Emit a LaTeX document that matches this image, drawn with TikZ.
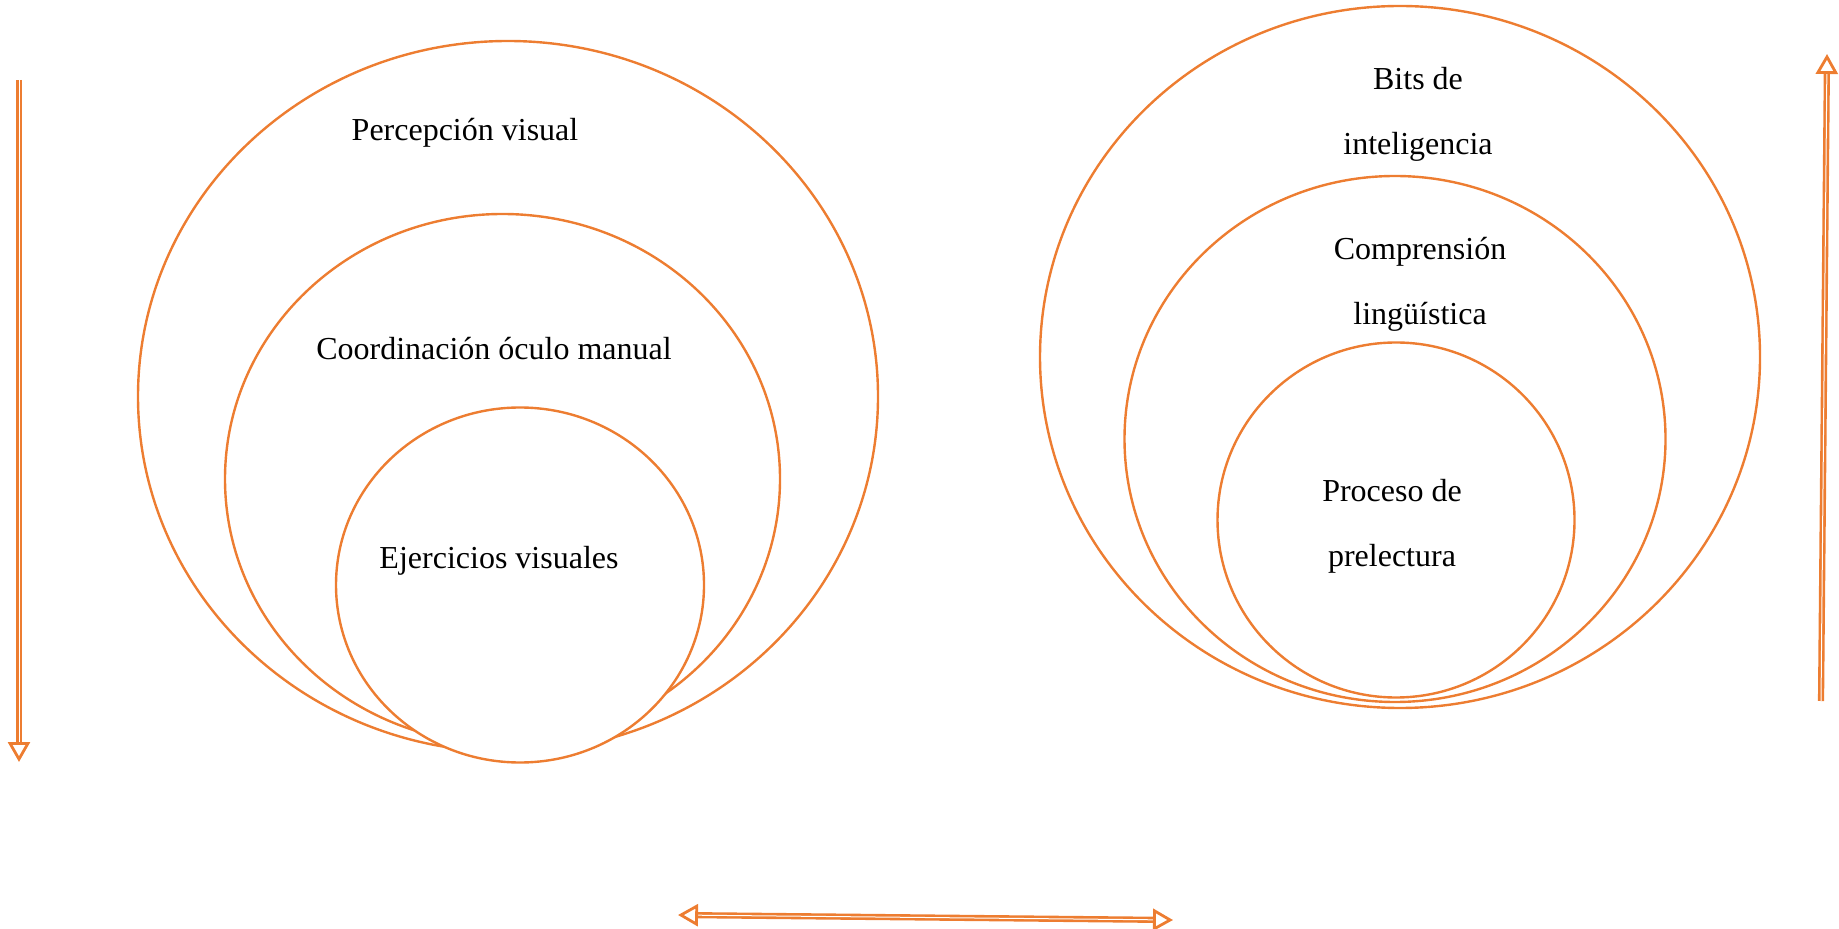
\documentclass[tikz,border=0pt]{standalone}
\usepackage{fontspec}
\setmainfont{Liberation Serif}
\usetikzlibrary{arrows.meta,shapes.geometric,positioning}
\definecolor{naranja}{HTML}{ED7D31}

\begin{document}
\begin{tikzpicture}[x=0.5pt,y=-0.5pt,
    aro/.style={draw=naranja,line width=1.2pt,ellipse,inner sep=0pt},
    texto/.style={font=\fontsize{16}{32.5}\selectfont,align=center},
    punta/.tip={Triangle[open,length=10pt,width=11pt,line width=1.4pt]},
    flecha/.style={draw=naranja,line width=1.3pt,double=white,double distance=0.5pt}]
  \useasboundingbox (0,0) rectangle (1839,929);
  % lado izquierdo
  \node[aro,minimum width=370pt,minimum height=355.5pt] (percepcion) at (508,396.5) {};
  \node[aro,minimum width=277.5pt,minimum height=265pt] (coordinacion) at (502.5,479) {};
  \node[aro,fill=white,minimum width=184pt,minimum height=177.5pt] (ejercicios) at (520,585) {};
  \node[texto] (tpercepcion) at (465,133) {Percepción visual};
  \node[texto] (tcoordinacion) at (494,349) {Coordinación óculo manual};
  \node[texto] (tejercicios) at (499,561) {Ejercicios visuales};
  % lado derecho
  \node[aro,minimum width=360pt,minimum height=351pt] (bits) at (1400,357) {};
  \node[aro,minimum width=270.5pt,minimum height=263pt] (comprension) at (1395,439) {};
  \node[aro,fill=white,minimum width=178.5pt,minimum height=177.5pt] (proceso) at (1396,520) {};
  \node[texto] (tbits) at (1418,114.5) {Bits de\\inteligencia};
  \node[texto] (tcomprension) at (1420,284.5) {Comprensión\\lingüística};
  \node[texto] (tproceso) at (1392,526) {Proceso de\\prelectura};
  % flechas
  \coordinate (abajo1) at (19,80);
  \coordinate (abajo2) at (19,762);
  \coordinate (arriba1) at (1821,701);
  \coordinate (arriba2) at (1827,54);
  \coordinate (lado1) at (678,915);
  \coordinate (lado2) at (1173,920);
  \draw[flecha,-punta] (abajo1) -- (abajo2);
  \draw[flecha,-punta] (arriba1) -- (arriba2);
  \draw[flecha,punta-punta] (lado1) -- (lado2);
\end{tikzpicture}
\end{document}
